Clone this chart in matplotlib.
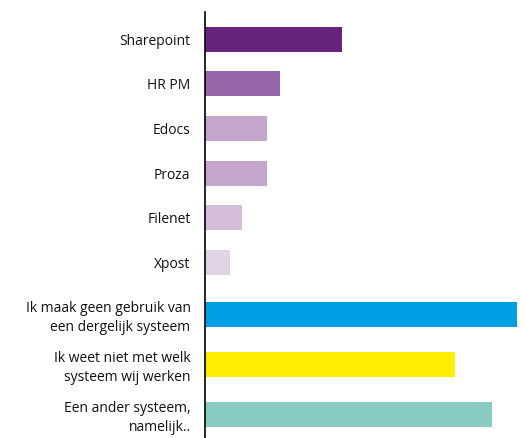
import matplotlib
matplotlib.use("Agg")
import matplotlib.pyplot as plt

labels = ["Sharepoint", "HR PM", "Edocs", "Proza", "Filenet", "Xpost",
          "Ik maak geen gebruik van\neen dergelijk systeem",
          "Ik weet niet met welk\nsysteem wij werken",
          "Een ander systeem,\nnamelijk.."]
values = [11, 6, 5, 5, 3, 2, 25, 20, 23]
colors = ["#68237e", "#9665a8", "#c4a6cd", "#c4a6cd", "#d3bdd8", "#e1d3e6",
          "#009fe3", "#ffed00", "#8acbc1"]
# row positions (the last three rows sit a bit further apart)
positions = [0, 1, 2, 3, 4, 5, 6.17, 7.29, 8.41]

plt.rcParams['font.family'] = ['Open Sans', 'DejaVu Sans']

fig = plt.figure(figsize=(5.26, 4.38), dpi=100)
ax = fig.add_axes([204.5 / 526, 0, 312.5 / 526, 1 - 12.3 / 438])

ax.barh(positions, values, height=0.56, color=colors)

ax.set_xlim(0, 25)
ax.set_ylim(8.94, -0.603)
ax.set_yticks(positions)
ax.set_yticklabels(labels, fontsize=10, color="#111111")
for t in ax.get_yticklabels():
    t.set_linespacing(1.3)
ax.tick_params(axis="y", length=0, pad=10)
ax.set_xticks([])

for s in ["top", "right", "bottom"]:
    ax.spines[s].set_visible(False)
ax.spines["left"].set_linewidth(1.2)
ax.spines["left"].set_color("black")

fig.savefig("out.png", dpi=100)
